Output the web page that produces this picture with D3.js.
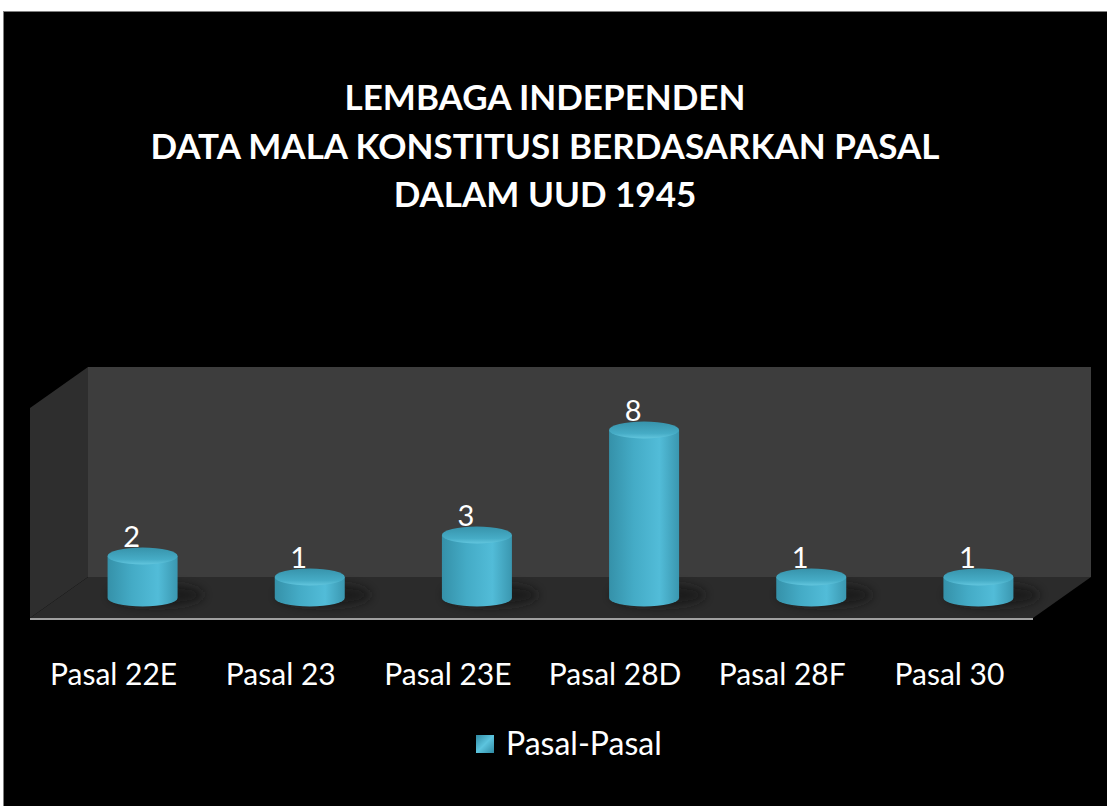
<!DOCTYPE html>
<html>
<head>
<meta charset="utf-8">
<script src="https://cdn.jsdelivr.net/npm/d3@7"></script>
<style>
  body { margin: 0; background: #fff; }
  svg { display: block; }
</style>
</head>
<body>
<div id="chart"></div>
<script>
// chart data
const titleLines = ["LEMBAGA INDEPENDEN", "DATA MALA KONSTITUSI BERDASARKAN PASAL", "DALAM UUD 1945"];
const categories = ["Pasal 22E", "Pasal 23", "Pasal 23E", "Pasal 28D", "Pasal 28F", "Pasal 30"];
const values = [2, 1, 3, 8, 1, 1];
const seriesName = "Pasal-Pasal";
const yMax = 10;

const width = 1107, height = 806;

const svg = d3.select("#chart").append("svg")
    .attr("width", width)
    .attr("height", height);

const defs = svg.append("defs");

// body gradient (left dark -> light -> right dark)
let bodyGrad = defs.append("linearGradient").attr("id", "bodyGrad")
    .attr("x1", "0%").attr("x2", "100%").attr("y1", "0%").attr("y2", "0%");
bodyGrad.append("stop").attr("offset", "0%").attr("stop-color", "#3591a9");
bodyGrad.append("stop").attr("offset", "35%").attr("stop-color", "#44abc6");
bodyGrad.append("stop").attr("offset", "72%").attr("stop-color", "#52bcd8");
bodyGrad.append("stop").attr("offset", "100%").attr("stop-color", "#3a97b0");

let topGrad = defs.append("linearGradient").attr("id", "topGrad")
    .attr("x1", "0%").attr("x2", "0%").attr("y1", "0%").attr("y2", "100%");
topGrad.append("stop").attr("offset", "0%").attr("stop-color", "#3793ab");
topGrad.append("stop").attr("offset", "70%").attr("stop-color", "#46acc6");
topGrad.append("stop").attr("offset", "100%").attr("stop-color", "#62c6de");

let legGrad = defs.append("linearGradient").attr("id", "legGrad")
    .attr("x1", "0%").attr("x2", "100%").attr("y1", "0%").attr("y2", "100%");
legGrad.append("stop").attr("offset", "0%").attr("stop-color", "#2f8aa3");
legGrad.append("stop").attr("offset", "50%").attr("stop-color", "#5cc4de");
legGrad.append("stop").attr("offset", "100%").attr("stop-color", "#2f8aa3");

defs.append("filter").attr("id", "blur")
    .attr("x", "-50%").attr("y", "-50%").attr("width", "200%").attr("height", "200%")
    .append("feGaussianBlur").attr("stdDeviation", 5);

// black slide area
svg.append("rect")
    .attr("x", 3.5).attr("y", 11.5)
    .attr("width", width).attr("height", height)
    .attr("fill", "#000")
    .attr("stroke", "#808080");

// title
svg.append("g").selectAll("text")
    .data(titleLines)
    .enter()
    .append("text")
    .attr("x", 545)
    .attr("y", (d, i) => 110 + i * 48.5)
    .attr("text-anchor", "middle")
    .attr("fill", "#fff")
    .attr("font-family", "Lato, sans-serif")
    .attr("font-weight", "bold")
    .attr("font-size", 35)
    .text(d => d);

// 3d box geometry
const front = {x: 30, y: 618, w: 1003};
const depth = {dx: 58, dy: -41};

const x = d3.scaleBand().domain(categories).range([0, front.w]);
const y = d3.scaleLinear().domain([0, yMax]).range([0, 210]);
const wallH = y(yMax);

// back wall
svg.append("path")
    .attr("d", `M${front.x + depth.dx},${front.y + depth.dy} h${front.w} v${-wallH} h${-front.w} Z`)
    .attr("fill", "#3d3d3d");

// side wall
svg.append("path")
    .attr("d", `M${front.x},${front.y} L${front.x + depth.dx},${front.y + depth.dy} v${-wallH} L${front.x},${front.y - wallH} Z`)
    .attr("fill", "#2e2e2e");

// floor
svg.append("path")
    .attr("d", `M${front.x},${front.y} h${front.w} l${depth.dx},${depth.dy} h${-front.w} Z`)
    .attr("fill", "#2b2b2b");

svg.append("line")
    .attr("x1", front.x).attr("x2", front.x + front.w)
    .attr("y1", front.y + 1).attr("y2", front.y + 1)
    .attr("stroke", "#a0a0a0").attr("stroke-width", 2);

// cylinders sit at mid depth
const rx = 35, ry = 8.5;
const cx = d => front.x + x(d.cat) + x.bandwidth() / 2 + depth.dx / 2;
const baseY = front.y + depth.dy / 2 + 0.5;

const bars = categories.map((c, i) => ({cat: c, value: values[i]}));

const g = svg.append("g");

// floor shadows
g.selectAll(".shadow")
    .data(bars)
    .enter()
    .append("ellipse")
    .attr("class", "shadow")
    .attr("cx", d => cx(d) + 14)
    .attr("cy", baseY - 3)
    .attr("rx", rx + 12)
    .attr("ry", ry + 3)
    .attr("fill", "#151515")
    .attr("opacity", 0.7)
    .attr("filter", "url(#blur)");

// bodies
g.selectAll(".body")
    .data(bars)
    .enter()
    .append("path")
    .attr("class", "body")
    .attr("d", d => {
        let x0 = cx(d) - rx, x1 = cx(d) + rx;
        let top = baseY - y(d.value);
        return `M${x0},${top} L${x0},${baseY} A${rx},${ry} 0 0 0 ${x1},${baseY} L${x1},${top} Z`;
    })
    .attr("fill", "url(#bodyGrad)");

// tops
g.selectAll(".top")
    .data(bars)
    .enter()
    .append("ellipse")
    .attr("class", "top")
    .attr("cx", d => cx(d))
    .attr("cy", d => baseY - y(d.value))
    .attr("rx", rx)
    .attr("ry", ry)
    .attr("fill", "url(#topGrad)");

// value labels
g.selectAll(".label")
    .data(bars)
    .enter()
    .append("text")
    .attr("class", "label")
    .attr("x", d => cx(d) - 11)
    .attr("y", d => baseY - y(d.value) - 9)
    .attr("text-anchor", "middle")
    .attr("fill", "#fff")
    .attr("font-family", "Lato, sans-serif")
    .attr("font-size", 29)
    .text(d => d.value);

// category labels
svg.append("g").selectAll("text")
    .data(categories)
    .enter()
    .append("text")
    .attr("x", d => front.x + x(d) + x.bandwidth() / 2)
    .attr("y", 685)
    .attr("text-anchor", "middle")
    .attr("fill", "#fff")
    .attr("font-family", "Lato, sans-serif")
    .attr("font-size", 30)
    .text(d => d);

// legend
const legend = svg.append("g").attr("transform", "translate(476,735)");
legend.append("rect")
    .attr("width", 18).attr("height", 18)
    .attr("fill", "url(#legGrad)");
legend.append("text")
    .attr("x", 30).attr("y", 20)
    .attr("fill", "#fff")
    .attr("font-family", "Lato, sans-serif")
    .attr("font-size", 32)
    .text(seriesName);
</script>
</body>
</html>
